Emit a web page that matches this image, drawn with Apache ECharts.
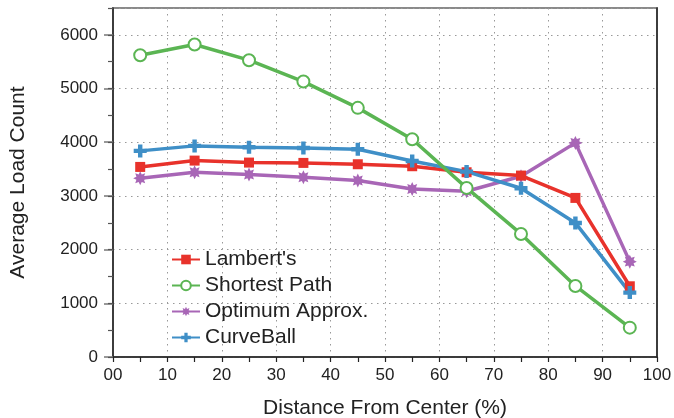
<!DOCTYPE html>
<html lang="en">
<head>
    <meta charset="UTF-8">
    <title>Average Load Count</title>
    <style>
        html, body { margin: 0; padding: 0; background: #fff; }
        #chart { width: 674px; height: 418px; }
    </style>
</head>
<body>
<div id="chart"></div>
<script src="https://cdn.jsdelivr.net/npm/echarts@6/dist/echarts.min.js"></script>
<script type="text/javascript">
    // distance from center (%), one point per 10% band
    var distance = [5, 15, 25, 35, 45, 55, 65, 75, 85, 95];

    var lambert = [3540, 3658, 3621, 3615, 3590, 3553, 3441, 3379, 2963, 1317];
    var shortestPath = [5621, 5820, 5528, 5130, 4640, 4056, 3149, 2292, 1323, 547];
    var optimumApprox = [3329, 3441, 3398, 3348, 3286, 3130, 3087, 3366, 3988, 1776];
    var curveBall = [3839, 3932, 3907, 3894, 3870, 3652, 3453, 3143, 2497, 1199];

    var seriesNames = ["Lambert's", 'Shortest Path', 'Optimum Approx.', 'CurveBall'];
    var seriesColors = ['#e8322b', '#5bb553', '#a866b6', '#3f8fc7'];

    var font = 'Liberation Sans';
    var plusPath = 'path://M3.3,0H6.7V3.3H10V6.7H6.7V10H3.3V6.7H0V3.3H3.3Z';
    var starPath = 'path://M10,5L7.7,6.1L8.54,8.54L6.1,7.7L5,10L3.9,7.7L1.46,8.54L2.3,6.1L0,5L2.3,3.9L1.46,1.46L3.9,2.3L5,0L6.1,2.3L8.54,1.46L7.7,3.9Z';

    function pairs(ys) {
        return distance.map(function (x, i) { return [x, ys[i]]; });
    }

    function lineSeries(idx, data, symbol, size, extra) {
        var s = {
            name: seriesNames[idx],
            type: 'line',
            data: pairs(data),
            symbol: symbol,
            symbolSize: size,
            showSymbol: true,
            color: seriesColors[idx],
            lineStyle: { width: 3.5, color: seriesColors[idx] },
            itemStyle: { color: seriesColors[idx] },
            animation: false
        };
        if (extra) {
            for (var k in extra) s[k] = extra[k];
        }
        return s;
    }

    var myChart = echarts.init(document.getElementById('chart'));
    myChart.setOption({
        backgroundColor: '#fff',
        animation: false,
        textStyle: { fontFamily: font },
        grid: {
            left: 113, right: 17, top: 8, bottom: 61,
            containLabel: false,
            outerBoundsMode: 'none',
            show: true,
            borderColor: '#8a8a8a',
            borderWidth: 2
        },
        legend: {
            orient: 'vertical',
            left: 166,
            top: 244,
            itemWidth: 28,
            itemHeight: 12,
            itemGap: 5,
            data: seriesNames,
            textStyle: { fontFamily: font, fontSize: 21, color: '#222', lineHeight: 21 }
        },
        xAxis: {
            type: 'value',
            min: 0, max: 100, interval: 10,
            name: 'Distance From Center (%)',
            nameLocation: 'middle',
            nameGap: 41,
            nameTextStyle: { fontFamily: font, fontSize: 21, color: '#222' },
            axisLine: { onZero: false, lineStyle: { color: '#222', width: 1.5 } },
            axisTick: { show: true, length: 5, lineStyle: { color: '#222', width: 1.2 } },
            minorTick: { show: true, splitNumber: 2, length: 5, lineStyle: { color: '#222', width: 1.2 } },
            axisLabel: {
                fontFamily: font, fontSize: 17, color: '#222', margin: 10,
                formatter: function (v) { return v === 0 ? '00' : String(v); }
            },
            splitLine: { show: true, lineStyle: { color: '#999', type: [1.5, 4.5], width: 1 } }
        },
        yAxis: [{
            type: 'value',
            position: 'left',
            min: 0, max: 6500, interval: 1000,
            name: 'Average Load Count',
            nameLocation: 'middle',
            nameGap: 84,
            nameRotate: 90,
            nameTextStyle: { fontFamily: font, fontSize: 21, color: '#222' },
            axisLine: { show: true, lineStyle: { color: '#222', width: 1.5 } },
            axisTick: { show: true, length: 9, lineStyle: { color: '#777', width: 1.5 } },
            axisLabel: {
                fontFamily: font, fontSize: 17, color: '#222', margin: 15,
                showMaxLabel: false,
                formatter: function (v) { return String(v); }
            },
            splitLine: { show: true, lineStyle: { color: '#999', type: [1.5, 4.5], width: 1 } }
        }, {
            // minor ticks every 500
            type: 'value',
            position: 'left',
            min: 0, max: 6500, interval: 500,
            axisLine: { show: false },
            axisTick: { show: true, length: 5, lineStyle: { color: '#555', width: 1.2 } },
            axisLabel: { show: false },
            splitLine: { show: false }
        }, {
            // dark right frame
            type: 'value',
            position: 'right',
            min: 0, max: 6500,
            axisLine: { show: true, lineStyle: { color: '#222', width: 1.5 } },
            axisTick: { show: false },
            axisLabel: { show: false },
            splitLine: { show: false }
        }],
        series: [
            lineSeries(0, lambert, 'rect', 10, { z: 3 }),
            lineSeries(1, shortestPath, 'emptyCircle', 12, {
                z: 4,
                itemStyle: { color: seriesColors[1], borderWidth: 3 }
            }),
            lineSeries(2, optimumApprox, starPath, 14, { z: 2 }),
            lineSeries(3, curveBall, plusPath, 13, { z: 3 })
        ]
    });
</script>
</body>
</html>
